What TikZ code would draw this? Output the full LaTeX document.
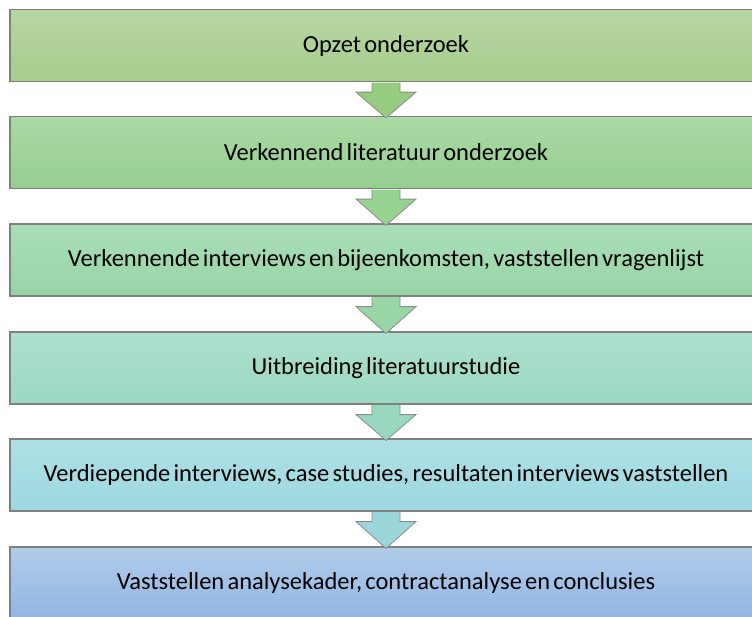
\documentclass[tikz,border=0pt]{standalone}
\usepackage{fontspec}
\setmainfont{Carlito}
\usetikzlibrary{calc}
\newcommand{\stagefont}{\fontsize{24.5}{28}\selectfont\spaceskip=0.13em plus 0.05em\relax}
\begin{document}
\begin{tikzpicture}[x=1pt,y=-1pt,
  stage/.style={draw=black!50, line width=1.2pt, minimum width=752pt, minimum height=72pt,
    inner sep=0pt, font=\stagefont, text=black},
  flowarrow/.style={draw=black!45, line width=0.8pt}]
\useasboundingbox (0,0) rectangle (752,616);
\begin{scope}
\clip (0,0) rectangle (752,616);
\node[stage, top color={rgb,255:red,184;green,214;blue,164}, bottom color={rgb,255:red,166;green,204;blue,140}] (b1) at (386,45.5) {Opzet onderzoek};
\node[stage, top color={rgb,255:red,170;green,218;blue,164}, bottom color={rgb,255:red,150;green,206;blue,144}] (b2) at (386,152.5) {Verkennend literatuur onderzoek};
\node[stage, top color={rgb,255:red,170;green,222;blue,184}, bottom color={rgb,255:red,152;green,212;blue,166}] (b3) at (386,260) {Verkennende interviews en bijeenkomsten, vaststellen vragenlijst};
\node[stage, top color={rgb,255:red,172;green,224;blue,206}, bottom color={rgb,255:red,156;green,216;blue,194}] (b4) at (386,368) {Uitbreiding literatuurstudie};
\node[stage, top color={rgb,255:red,174;green,224;blue,230}, bottom color={rgb,255:red,158;green,216;blue,224}] (b5) at (386,475) {Verdiepende interviews, case studies, resultaten interviews vaststellen};
\node[stage, top color={rgb,255:red,176;green,204;blue,234}, bottom color={rgb,255:red,146;green,182;blue,226}] (b6) at (386,583) {Vaststellen analysekader, contractanalyse en conclusies};
\end{scope}
\foreach \a/\b/\c in {b1/b2/{rgb,255:red,150;green,204;blue,128},
                      b2/b3/{rgb,255:red,150;green,210;blue,144},
                      b3/b4/{rgb,255:red,152;green,214;blue,166},
                      b4/b5/{rgb,255:red,152;green,216;blue,190},
                      b5/b6/{rgb,255:red,154;green,214;blue,218}}{
  \filldraw[flowarrow, fill=\c]
    ($(\a.south)+(-14,0.6)$) -- ($(\a.south)+(-14,10)$) -- ($(\a.south)+(-30,10)$)
    -- ($(\b.north)+(0,2)$) -- ($(\a.south)+(30,10)$) -- ($(\a.south)+(14,10)$)
    -- ($(\a.south)+(14,0.6)$);
}
\end{tikzpicture}
\end{document}
